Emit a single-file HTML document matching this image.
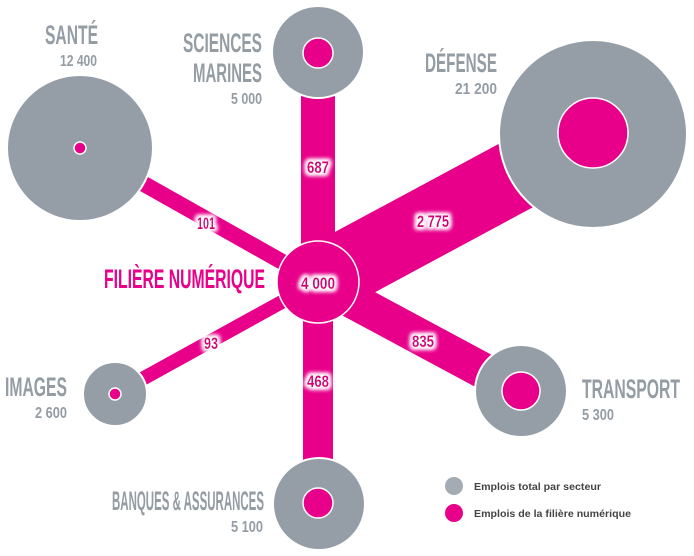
<!DOCTYPE html>
<html><head><meta charset="utf-8"><style>
html,body{margin:0;padding:0;background:#fff;width:694px;height:556px;overflow:hidden}
svg{display:block}
.lab{font-family:"Liberation Sans Narrow","Liberation Sans",sans-serif;font-weight:bold;fill:#949ca4}
.num{font-family:"Liberation Sans Narrow","Liberation Sans",sans-serif;font-weight:bold;fill:#d4007a;font-size:17px;text-anchor:middle}
.leg{font-family:"Liberation Sans",sans-serif;font-weight:bold;fill:#444;font-size:10px}
</style></head><body>
<svg width="694" height="556" viewBox="0 0 694 556" xmlns="http://www.w3.org/2000/svg">
<defs>
<filter id="g" x="-30%" y="-50%" width="160%" height="200%">
<feMorphology operator="dilate" radius="2" in="SourceAlpha" result="d"/>
<feGaussianBlur in="d" stdDeviation="2" result="b"/>
<feFlood flood-color="#fff"/><feComposite in2="b" operator="in" result="w"/>
<feMerge><feMergeNode in="w"/><feMergeNode in="w"/><feMergeNode in="SourceGraphic"/></feMerge>
</filter>
</defs>
<g stroke="#e8008a" stroke-linecap="butt">
<line x1="318" y1="282" x2="80" y2="148" stroke-width="16"/>
<line x1="318" y1="282" x2="115" y2="394" stroke-width="14"/>
<line x1="318" y1="282" x2="318" y2="52" stroke-width="34"/>
<line x1="318" y1="282" x2="318" y2="504" stroke-width="30"/>
<line x1="318" y1="282" x2="593" y2="134" stroke-width="72"/>
<line x1="318" y1="282" x2="521" y2="391" stroke-width="36"/>
</g>
<g fill="#959ea7" stroke="#fff" stroke-width="2">
<circle cx="80" cy="148" r="73"/>
<circle cx="318" cy="52" r="46"/>
<circle cx="593" cy="134" r="94"/>
<circle cx="521" cy="391" r="46"/>
<circle cx="115" cy="394" r="32"/>
<circle cx="319" cy="504" r="46"/>
</g>
<g fill="#e8008a" stroke="#fff" stroke-width="1.5">
<circle cx="80" cy="148" r="6"/>
<circle cx="318" cy="53" r="15"/>
<circle cx="593" cy="133" r="35"/>
<circle cx="521" cy="391" r="19"/>
<circle cx="115" cy="394" r="6"/>
<circle cx="318" cy="503" r="15"/>
<circle cx="318" cy="282" r="41"/>
</g>
<g filter="url(#g)">
<text class="num" x="318" y="173" textLength="22" lengthAdjust="spacingAndGlyphs">687</text>
<text class="num" x="433" y="227" textLength="32" lengthAdjust="spacingAndGlyphs">2 775</text>
<text class="num" x="318" y="289" textLength="34" lengthAdjust="spacingAndGlyphs">4 000</text>
<text class="num" x="423" y="347" textLength="22" lengthAdjust="spacingAndGlyphs">835</text>
<text class="num" x="318" y="387" textLength="22" lengthAdjust="spacingAndGlyphs">468</text>
<text class="num" x="206" y="229" textLength="18" lengthAdjust="spacingAndGlyphs">101</text>
<text class="num" x="211" y="349" textLength="14" lengthAdjust="spacingAndGlyphs">93</text>
</g>
<g class="lab">
<text x="45" y="44" font-size="27" textLength="53" lengthAdjust="spacingAndGlyphs">SANTÉ</text>
<text x="60" y="66" font-size="16" textLength="37" lengthAdjust="spacingAndGlyphs">12 400</text>
<text x="183" y="52" font-size="27" textLength="79" lengthAdjust="spacingAndGlyphs">SCIENCES</text>
<text x="193" y="82" font-size="27" textLength="69" lengthAdjust="spacingAndGlyphs">MARINES</text>
<text x="231" y="104" font-size="16" textLength="31" lengthAdjust="spacingAndGlyphs">5 000</text>
<text x="425" y="72" font-size="27" textLength="72" lengthAdjust="spacingAndGlyphs">DÉFENSE</text>
<text x="455" y="94" font-size="16" textLength="42" lengthAdjust="spacingAndGlyphs">21 200</text>
<text x="5" y="396" font-size="27" textLength="62" lengthAdjust="spacingAndGlyphs">IMAGES</text>
<text x="35" y="418" font-size="16" textLength="32" lengthAdjust="spacingAndGlyphs">2 600</text>
<text x="582" y="398" font-size="27" textLength="98" lengthAdjust="spacingAndGlyphs">TRANSPORT</text>
<text x="582" y="420" font-size="16" textLength="32" lengthAdjust="spacingAndGlyphs">5 300</text>
<text x="112" y="510" font-size="27" textLength="152" lengthAdjust="spacingAndGlyphs">BANQUES &amp; ASSURANCES</text>
<text x="231" y="532" font-size="16" textLength="32" lengthAdjust="spacingAndGlyphs">5 100</text>
</g>
<text x="104" y="288" font-family="Liberation Sans Narrow,Liberation Sans,sans-serif" font-weight="bold" font-size="27" fill="#e8008a" textLength="161" lengthAdjust="spacingAndGlyphs">FILIÈRE NUMÉRIQUE</text>
<circle cx="454" cy="486" r="9" fill="#a3abb3"/>
<circle cx="454" cy="513" r="9" fill="#e8008a"/>
<text class="leg" x="474" y="490" textLength="127" lengthAdjust="spacingAndGlyphs">Emplois total par secteur</text>
<text class="leg" x="474" y="517" textLength="157" lengthAdjust="spacingAndGlyphs">Emplois de la filière numérique</text>
</svg>
</body></html>
